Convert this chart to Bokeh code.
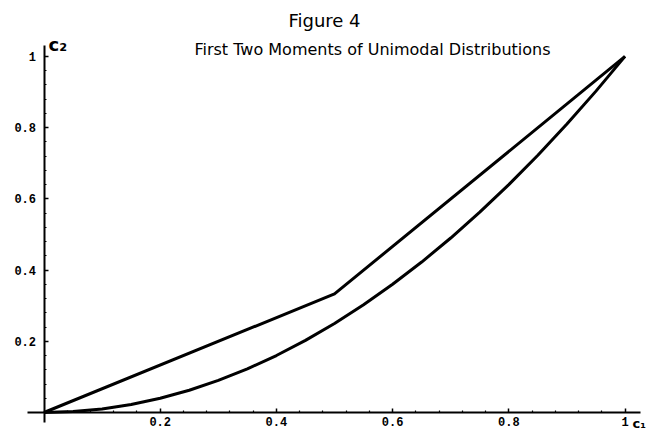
from bokeh.plotting import figure
from bokeh.models import FixedTicker, Label, Range1d
from bokeh.embed import file_html
from bokeh.resources import INLINE

# ---- data ----
upper_c1 = [0.0, 0.5, 1.0]
upper_c2 = [0.0, 0.333, 1.0]

lower_c1 = [0.0, 0.05, 0.1, 0.15, 0.2, 0.25, 0.3, 0.35, 0.4, 0.45, 0.5,
            0.55, 0.6, 0.65, 0.7, 0.75, 0.8, 0.85, 0.9, 0.95, 1.0]
lower_c2 = [0.0, 0.0025, 0.01, 0.0225, 0.04, 0.0625, 0.09, 0.1225, 0.16, 0.2025, 0.25,
            0.3025, 0.36, 0.4225, 0.49, 0.5625, 0.64, 0.7225, 0.81, 0.9025, 1.0]

major_ticks = [0.2, 0.4, 0.6, 0.8, 1.0]
tick_labels = ["0.2", "0.4", "0.6", "0.8", "1"]
minor_ticks = [0.04, 0.08, 0.12, 0.16, 0.24, 0.28, 0.32, 0.36, 0.44, 0.48, 0.52, 0.56,
               0.64, 0.68, 0.72, 0.76, 0.84, 0.88, 0.92, 0.96]

title_text = "Figure 4"
subtitle_text = "First Two Moments of Unimodal Distributions"
xlabel_text = "c\u2081"
ylabel_text = "c\u2082"

# ---- figure: the frame fills the whole canvas so nothing is clipped ----
p = figure(width=652, height=434, output_backend="svg", toolbar_location=None,
           x_range=Range1d(-0.0749, 1.0473), y_range=Range1d(-0.0618, 1.157),
           min_border=0)
p.outline_line_color = None
p.grid.visible = False
p.background_fill_color = "white"
p.border_fill_color = "white"

overrides = {t: s for t, s in zip(major_ticks, tick_labels)}
for ax in (p.xaxis[0], p.yaxis[0]):
    ax.fixed_location = 0
    ax.ticker = FixedTicker(ticks=major_ticks, minor_ticks=minor_ticks)
    ax.major_label_overrides = overrides
    ax.axis_line_width = 2
    ax.axis_line_color = "black"
    ax.major_tick_in = 4
    ax.major_tick_out = 0
    ax.minor_tick_in = 2
    ax.minor_tick_out = 0
    ax.major_tick_line_width = 1.5
    ax.minor_tick_line_width = 1.2
    ax.major_tick_line_color = "black"
    ax.minor_tick_line_color = "black"
    ax.major_label_text_font = "Liberation Mono"
    ax.major_label_text_font_style = "bold"
    ax.major_label_text_font_size = "12px"
    ax.major_label_text_color = "black"
p.xaxis[0].bounds = (-0.028, 1.027)
p.yaxis[0].bounds = (-0.028, 1.031)
p.xaxis[0].major_label_standoff = 5
p.yaxis[0].major_label_standoff = 8

p.line(upper_c1, upper_c2, line_color="black", line_width=3, line_join="round")
p.line(lower_c1, lower_c2, line_color="black", line_width=3, line_join="round")

# screen units: origin at the canvas bottom-left
p.add_layout(Label(x=324, y=414, x_units="screen", y_units="screen", text=title_text,
                   text_align="center", text_baseline="middle",
                   text_font="DejaVu Sans", text_font_size="18px", text_color="black"))
p.add_layout(Label(x=372, y=385, x_units="screen", y_units="screen", text=subtitle_text,
                   text_align="center", text_baseline="middle",
                   text_font="DejaVu Sans", text_font_size="16px", text_color="black"))
p.add_layout(Label(x=48, y=390, x_units="screen", y_units="screen", text=ylabel_text,
                   text_align="left", text_baseline="middle",
                   text_font="DejaVu Sans", text_font_size="18px", text_font_style="bold",
                   text_color="black"))
p.add_layout(Label(x=632, y=4, x_units="screen", y_units="screen", text=xlabel_text,
                   text_align="left", text_baseline="bottom",
                   text_font="DejaVu Sans", text_font_size="13px", text_font_style="bold",
                   text_color="black"))

open("out.html", "w").write(file_html(p, INLINE))
